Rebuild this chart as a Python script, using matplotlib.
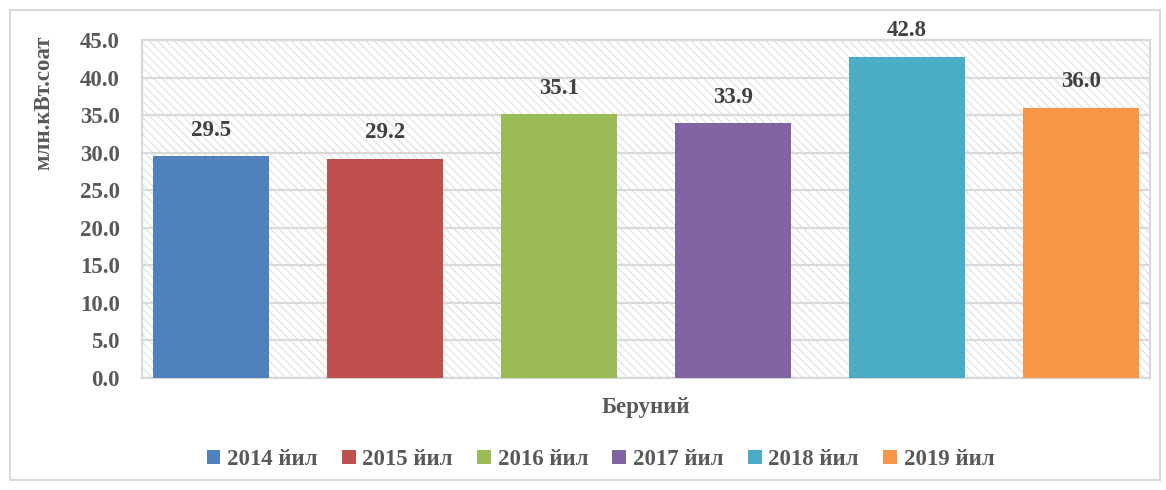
import matplotlib.pyplot as plt
from matplotlib.patches import Rectangle
import numpy as np

plt.rcParams['font.family'] = ['Liberation Serif', 'DejaVu Serif']
plt.rcParams['font.weight'] = 'bold'
plt.rcParams['hatch.linewidth'] = 0.8

years = ['2014 йил', '2015 йил', '2016 йил', '2017 йил', '2018 йил', '2019 йил']
values = [29.5, 29.2, 35.1, 33.9, 42.8, 36.0]
colors = ['#4F81BD', '#C0504D', '#9BBB59', '#8064A2', '#4BACC6', '#F79646']
category = 'Беруний'
yticks = np.arange(0, 45.1, 5)

grey = '#595959'
light = '#d9d9d9'
fs = 16.5

fig = plt.figure(figsize=(11.66, 4.9), dpi=100)
ax = fig.add_axes([0.122, 0.229, 0.864, 0.689])

# hatched background of the plot area
ax.add_patch(Rectangle((0, 0), 1, 1, transform=ax.transAxes, facecolor='white',
                       edgecolor='#dedede', hatch='\\\\\\\\', lw=0, zorder=0))

x = np.arange(len(values))
bars = ax.bar(x, values, width=0.667, color=colors, label=years, zorder=3)
for xi, v in zip(x, values):
    ax.annotate(f'{v:.1f}', (xi, v), xytext=(0, 11), textcoords='offset points',
                ha='center', va='bottom', fontsize=fs, color='#404040', fontweight='bold')

ax.set_xlim(-0.397, 5.397)
ax.set_ylim(0, 45)
ax.set_yticks(yticks)
ax.set_yticklabels([f'{t:.1f}' for t in yticks])
ax.set_xticks([])
ax.tick_params(axis='y', length=0, pad=16, labelsize=fs, labelcolor=grey)
ax.grid(axis='y', color=light, lw=1.6, zorder=1)
ax.set_axisbelow(True)
for s in ax.spines.values():
    s.set_color(light)
    s.set_linewidth(1.6)

ax.set_ylabel('млн.кВт.соат', fontsize=fs, color=grey, fontweight='bold')
ax.yaxis.set_label_coords(-0.087, 0.815)
ax.set_xlabel(category, fontsize=fs, color=grey, fontweight='bold', labelpad=14)

leg = fig.legend(handles=bars, labels=years, loc='center', bbox_to_anchor=(0.515, 0.062),
                 ncol=6, frameon=False, fontsize=fs, handlelength=0.6, handleheight=0.6,
                 handletextpad=0.3, columnspacing=1.05)
for t in leg.get_texts():
    t.set_color(grey)

fig.patches.append(Rectangle((0.009, 0.02), 0.986, 0.96, transform=fig.transFigure,
                             fill=False, edgecolor=light, lw=1.5))

fig.savefig('out.png', dpi=100)
